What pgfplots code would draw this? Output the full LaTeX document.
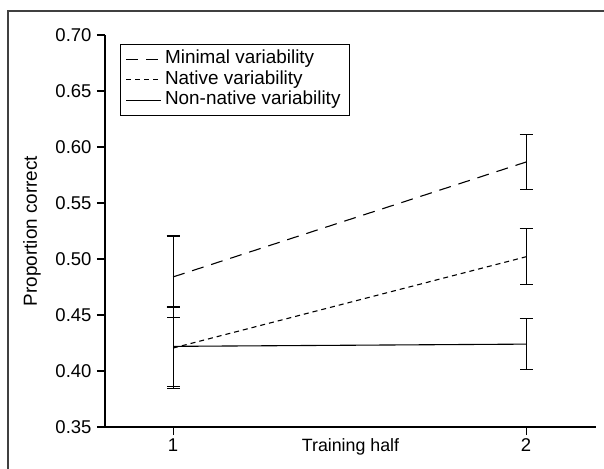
\documentclass[border=0pt]{standalone}
\usepackage{pgfplots}
\pgfplotsset{compat=1.18}
\usepackage{fontspec}
\setmainfont{Liberation Sans}
\begin{document}
\begin{tikzpicture}[font=\fontsize{18.5bp}{22bp}\selectfont]
\useasboundingbox (0,0) rectangle (604bp,469bp);
\draw[black!75, line width=1.6bp] (8bp,-5bp) -- (8bp,458bp) -- (610bp,458bp);
\draw[line width=1.1bp] (97bp,42bp) -- (106bp,42bp);
\begin{axis}[
  at={(105bp,42bp)}, anchor=south west,
  scale only axis, width=491bp, height=392bp,
  xmin=0.807, xmax=2.198, ymin=0.35, ymax=0.70,
  axis lines=left,
  axis line style={-, line width=1.1bp, black},
  xtick={1,2},
  ytick={0.35,0.40,0.45,0.50,0.55,0.60,0.65,0.70},
  tick align=outside, major tick length=8bp,
  every tick/.style={line width=1.1bp, black},
  yticklabel style={/tikz/xshift=-2bp, /pgf/number format/.cd, fixed, fixed zerofill, precision=2, assume math mode=true},
  xticklabel style={/pgf/number format/assume math mode=true},
  xlabel={Training half},
  xlabel style={at={(axis description cs:0.5,0)}, anchor=north, yshift=-8bp, font=\fontsize{17.8bp}{21bp}\selectfont},
  ylabel={Proportion correct},
  ylabel style={at={(axis description cs:-0.1487,0.5)}, anchor=center, rotate=0, font=\fontsize{18.9bp}{22bp}\selectfont},
  legend style={at={(0.0305,0.977)}, anchor=north west, draw=black, line width=1bp,
    inner xsep=5bp, inner ysep=4.5bp, row sep=0bp, font=\fontsize{18.9bp}{22bp}\selectfont,
    nodes={inner ysep=2.25bp, inner xsep=3.5bp, text height=12.5bp, text depth=3.5bp}},
  legend cell align=left,
  legend image code/.code={\draw[#1] (0bp,0bp) -- (35bp,0bp);},
]
\addplot[black, line width=1.1bp, dash pattern=on 12bp off 8bp,
  error bars/.cd, y dir=both, y explicit, error mark=|,
  error bar style={solid, line width=1.1bp},
  error mark options={solid, mark size=6.5bp, line width=1.1bp, black}]
  coordinates {(1,0.484) +- (0,0.0365) (2,0.5866) +- (0,0.0245)};
\addlegendentry{Minimal variability}
\addplot[black, line width=1.1bp, dash pattern=on 5bp off 4bp,
  error bars/.cd, y dir=both, y explicit, error mark=|,
  error bar style={solid, line width=1.1bp},
  error mark options={solid, mark size=6.5bp, line width=1.1bp, black}]
  coordinates {(1,0.4205) +- (0,0.0365) (2,0.502) +- (0,0.025)};
\addlegendentry{Native variability}
\addplot[black, line width=1.1bp, solid,
  error bars/.cd, y dir=both, y explicit, error mark=|,
  error bar style={solid, line width=1.1bp},
  error mark options={solid, mark size=6.5bp, line width=1.1bp, black}]
  coordinates {(1,0.422) +- (0,0.0355) (2,0.424) +- (0,0.023)};
\addlegendentry{Non-native variability}
\end{axis}
\end{tikzpicture}
\end{document}
